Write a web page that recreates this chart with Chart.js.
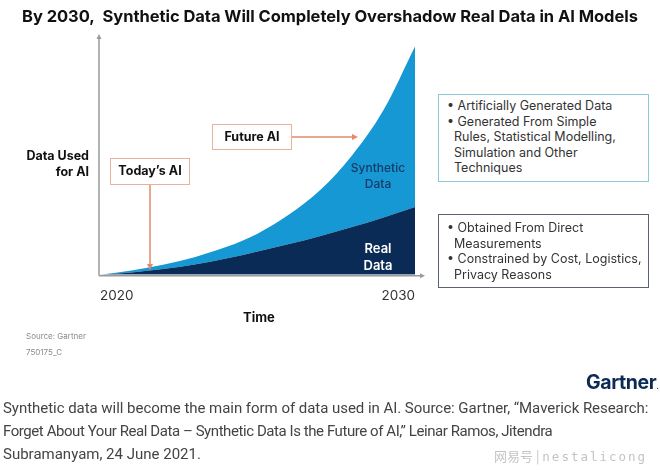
<!DOCTYPE html>
<html>
<head>
<meta charset="utf-8">
<script src="https://cdn.jsdelivr.net/npm/chart.js@4"></script>
<style>
  body { margin: 0; background: #fff; }
  #wrap { position: relative; width: 660px; height: 470px; overflow: hidden; font-family: Inter, "Open Sans", sans-serif; color: #222; }
  #c { position: absolute; left: 0; top: 0; }
  .t { position: absolute; white-space: nowrap; }
  .box { position: absolute; box-sizing: border-box; background: #fff; }
  .note { font-size: 12.5px; line-height: 15.5px; color: #333; }
  .cap { font-family: Roboto, "Noto Sans", sans-serif; font-size: 15px; color: #444; left: 3px; }
</style>
</head>
<body>
<div id="wrap">
  <canvas id="c" width="660" height="470"></canvas>

  <div class="t" id="title" data-w="616" style="left:22px;top:6px;font-size:16.5px;font-weight:700;color:#111;">By 2030,&nbsp; Synthetic Data Will Completely Overshadow Real Data in AI Models</div>

  <div class="t" style="right:571px;top:148px;font-size:12.5px;font-weight:700;text-align:right;line-height:16px;color:#111;">Data Used<br>for AI</div>

  <div class="box" style="left:110px;top:158px;width:80px;height:27px;border:1.5px solid #eab29c;"></div>
  <div class="t" style="left:110px;top:158px;width:80px;height:27px;line-height:26px;text-align:center;font-size:12.5px;font-weight:700;color:#111;">Today’s AI</div>

  <div class="box" style="left:212px;top:124px;width:80px;height:26px;border:1.5px solid #eab29c;"></div>
  <div class="t" style="left:212px;top:124px;width:80px;height:26px;line-height:25px;text-align:center;font-size:12.5px;font-weight:700;color:#111;">Future AI</div>

  <div class="t" style="left:346px;top:160px;width:64px;text-align:center;font-size:12px;line-height:16px;font-weight:500;color:#183a66;">Synthetic<br>Data</div>
  <div class="t" style="left:350px;top:240px;width:56px;text-align:center;font-size:13px;line-height:17px;font-weight:600;color:#fff;">Real<br>Data</div>

  <div class="t" style="left:243px;top:309px;font-size:13px;font-weight:700;color:#111;">Time</div>

  <div class="box" style="left:438px;top:94px;width:211px;height:88px;border:1.5px solid #8cc8da;"></div>
  <div class="t note" style="left:447px;top:98px;">
    <div>• Artificially Generated Data</div>
    <div>• Generated From Simple</div>
    <div>&nbsp;&nbsp;Rules, Statistical Modelling,</div>
    <div>&nbsp;&nbsp;Simulation and Other</div>
    <div>&nbsp;&nbsp;Techniques</div>
  </div>

  <div class="box" style="left:438px;top:214px;width:211px;height:74px;border:1.5px solid #5a6270;"></div>
  <div class="t note" style="left:447px;top:220px;">
    <div>• Obtained From Direct</div>
    <div>&nbsp;&nbsp;Measurements</div>
    <div>• Constrained by Cost, Logistics,</div>
    <div>&nbsp;&nbsp;Privacy Reasons</div>
  </div>

  <div class="t" style="left:26px;top:331px;font-size:8px;color:#8a8a8a;">Source: Gartner</div>
  <div class="t" style="left:26px;top:347px;font-size:8px;color:#8a8a8a;">750175_C</div>

  <div class="t" style="left:586px;top:370px;font-size:19.5px;font-weight:700;color:#0b2a55;letter-spacing:-0.4px;">Gartner<span style="font-size:8px;">.</span></div>

  <div class="t cap" data-w="645" style="top:399px;">Synthetic data will become the main form of data used in AI. Source: Gartner, “Maverick Research:</div>
  <div class="t cap" data-w="550" style="top:422px;">Forget About Your Real Data – Synthetic Data Is the Future of AI,” Leinar Ramos, Jitendra</div>
  <div class="t cap" style="top:445px;">Subramanyam, 24 June 2021.</div>

  <div class="t" style="left:494px;top:446px;font-size:13px;color:#c4c4c4;font-family:'Noto Sans CJK SC',sans-serif;">网易号 | <span style="font-family:'DejaVu Sans Mono',monospace;font-size:12.5px;letter-spacing:2px;">nestalicong</span></div>
</div>

<script>
const years = ["2020", "2021", "2022", "2023", "2024", "2025", "2026", "2027", "2028", "2029", "2030"];
const realData = [0, 1.0, 2.4, 4.3, 6.8, 9.8, 12.9, 16.3, 20.0, 24.0, 28.4];
const syntheticData = [0, 0.8, 1.8, 3.1, 4.8, 7.4, 12.3, 19.3, 30.0, 45.0, 67.2];
const tickLabels = ["2020", "2030"];

// stretch a few text lines to the width they take in the picture
document.querySelectorAll("[data-w]").forEach((el) => {
  const target = parseFloat(el.dataset.w);
  const n = el.textContent.length;
  const ls = (target - el.offsetWidth) / n;
  el.style.letterSpacing = ls.toFixed(2) + "px";
});

// axis lines with arrow heads, and the two orange pointers
const decor = {
  id: "decor",
  afterDraw(chart) {
    const ctx = chart.ctx;
    const a = chart.chartArea;
    ctx.save();
    ctx.strokeStyle = "#9a9a9a";
    ctx.fillStyle = "#9a9a9a";
    ctx.lineWidth = 1.5;
    ctx.beginPath();
    ctx.moveTo(a.left - 1, a.bottom + 1);
    ctx.lineTo(a.left - 1, a.top + 1);
    ctx.moveTo(a.left - 1, a.bottom + 1);
    ctx.lineTo(a.right + 7, a.bottom + 1);
    ctx.stroke();
    ctx.beginPath();
    ctx.moveTo(a.left - 1, a.top - 2);
    ctx.lineTo(a.left - 3.5, a.top + 3);
    ctx.lineTo(a.left + 1.5, a.top + 3);
    ctx.fill();
    ctx.beginPath();
    ctx.moveTo(a.right + 10, a.bottom + 1);
    ctx.lineTo(a.right + 5, a.bottom - 1.5);
    ctx.lineTo(a.right + 5, a.bottom + 3.5);
    ctx.fill();

    ctx.strokeStyle = "#e4896a";
    ctx.fillStyle = "#e4896a";
    ctx.lineWidth = 1.5;
    ctx.beginPath();
    ctx.moveTo(150, 185);
    ctx.lineTo(150, 266);
    ctx.moveTo(292, 137);
    ctx.lineTo(353, 137);
    ctx.stroke();
    ctx.beginPath();
    ctx.moveTo(150, 270);
    ctx.lineTo(147, 264);
    ctx.lineTo(153, 264);
    ctx.fill();
    ctx.beginPath();
    ctx.moveTo(358, 137);
    ctx.lineTo(352, 134);
    ctx.lineTo(352, 140);
    ctx.fill();
    ctx.restore();
  },
};

new Chart(document.getElementById("c"), {
  type: "line",
  data: {
    labels: years,
    datasets: [
      {
        label: "Real Data",
        data: realData,
        fill: "origin",
        backgroundColor: "#0b2b57",
        borderWidth: 0,
        pointRadius: 0,
        cubicInterpolationMode: "monotone",
      },
      {
        label: "Synthetic Data",
        data: syntheticData,
        fill: "-1",
        backgroundColor: "#1598d4",
        borderWidth: 0,
        pointRadius: 0,
        cubicInterpolationMode: "monotone",
      },
    ],
  },
  options: {
    responsive: false,
    devicePixelRatio: 1,
    animation: false,
    events: [],
    layout: { padding: { left: 100, right: 245, top: 36, bottom: 153 } },
    plugins: { legend: { display: false }, tooltip: { enabled: false } },
    scales: {
      x: {
        grid: { display: false, drawTicks: false },
        border: { display: false },
        ticks: {
          autoSkip: false,
          maxRotation: 0,
          align: "inner",
          padding: 13,
          color: "#333",
          font: { family: "Inter", size: 13.5 },
          callback: function (value) {
            const l = this.getLabelForValue(value);
            return tickLabels.includes(l) ? l : "";
          },
        },
      },
      y: {
        display: false,
        stacked: true,
        min: 0,
        max: 100,
      },
    },
  },
  plugins: [decor],
});
</script>
</body>
</html>
